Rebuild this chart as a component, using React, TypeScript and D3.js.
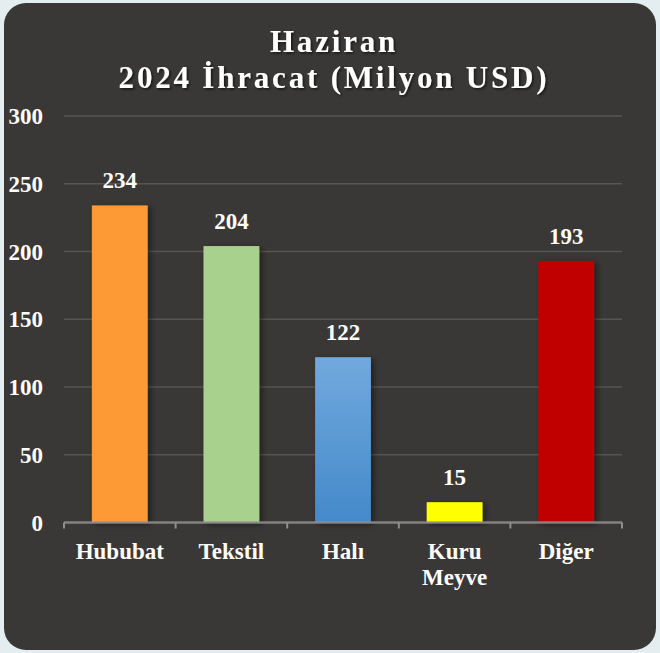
import React, { useRef, useEffect } from "react";
import * as d3 from "d3";

const categories = ["Hububat", "Tekstil", "Halı", "Kuru Meyve", "Diğer"];
const values = [234, 204, 122, 15, 193];
const barColors = ["#fe9a35", "#a9d18e", "url(#blueGrad)", "#ffff00", "#c00000"];
const yTicks = [0, 50, 100, 150, 200, 250, 300];
const titleLines = ["Haziran", "2024 İhracat (Milyon USD)"];

export default function App() {
  const svgRef = useRef<SVGSVGElement>(null);

  useEffect(() => {
    const width = 660;
    const height = 653;
    const marginLeft = 64;
    const marginRight = 38;
    const yTop = 116;
    const yBottom = 522.5;
    const font = "'Liberation Serif', 'Times New Roman', serif";

    const svg = d3.select(svgRef.current)
      .attr("width", width)
      .attr("height", height)
      .attr("viewBox", [0, 0, width, height]);

    svg.selectAll("*").remove();

    const defs = svg.append("defs");
    const grad = defs.append("linearGradient")
      .attr("id", "blueGrad")
      .attr("x1", 0).attr("y1", 0).attr("x2", 0).attr("y2", 1);
    grad.append("stop").attr("offset", "0%").attr("stop-color", "#71a9dd");
    grad.append("stop").attr("offset", "100%").attr("stop-color", "#4489ca");

    const shadow = defs.append("filter").attr("id", "barShadow")
      .attr("x", "-20%").attr("y", "-10%").attr("width", "150%").attr("height", "130%");
    shadow.append("feDropShadow")
      .attr("dx", 3).attr("dy", 2).attr("stdDeviation", 3)
      .attr("flood-color", "#000").attr("flood-opacity", 0.45);

    const tShadow = defs.append("filter").attr("id", "textShadow")
      .attr("x", "-10%").attr("y", "-30%").attr("width", "120%").attr("height", "160%");
    tShadow.append("feDropShadow")
      .attr("dx", 1.5).attr("dy", 1.5).attr("stdDeviation", 1)
      .attr("flood-color", "#000").attr("flood-opacity", 0.6);

    // page + card background
    svg.append("rect").attr("width", width).attr("height", height).attr("fill", "#e4edf0");
    svg.append("rect")
      .attr("x", 4).attr("y", 3).attr("width", 652).attr("height", 647)
      .attr("rx", 22).attr("fill", "#3a3836");

    const x = d3.scaleBand()
      .domain(categories)
      .range([marginLeft, width - marginRight])
      .paddingInner(0.5)
      .paddingOuter(0.25);

    const y = d3.scaleLinear()
      .domain([0, 300])
      .range([yBottom, yTop]);

    // gridlines
    svg.append("g")
      .selectAll("line")
      .data(yTicks.filter(d => d > 0))
      .join("line")
        .attr("x1", marginLeft).attr("x2", width - marginRight)
        .attr("y1", d => y(d)).attr("y2", d => y(d))
        .attr("stroke", "#575553").attr("stroke-width", 1.5);

    // y labels
    svg.append("g")
      .selectAll("text")
      .data(yTicks)
      .join("text")
        .attr("x", 43)
        .attr("y", d => y(d) + 8)
        .attr("text-anchor", "end")
        .attr("fill", "#fff")
        .attr("font-family", font)
        .attr("font-weight", "bold")
        .attr("font-size", 23)
        .text(d => d);

    // bars
    svg.append("g")
      .selectAll("rect")
      .data(values)
      .join("rect")
        .attr("x", (d, i) => x(categories[i])!)
        .attr("y", d => y(d))
        .attr("width", x.bandwidth())
        .attr("height", d => y(0) - y(d))
        .attr("fill", (d, i) => barColors[i])
        .attr("filter", "url(#barShadow)");

    // value labels
    svg.append("g")
      .selectAll("text")
      .data(values)
      .join("text")
        .attr("x", (d, i) => x(categories[i])! + x.bandwidth() / 2)
        .attr("y", d => y(d) - 17)
        .attr("text-anchor", "middle")
        .attr("fill", "#fff")
        .attr("font-family", font)
        .attr("font-weight", "bold")
        .attr("font-size", 23)
        .text(d => d);

    // x axis
    const axis = svg.append("g");
    axis.append("line")
      .attr("x1", marginLeft).attr("x2", width - marginRight)
      .attr("y1", yBottom).attr("y2", yBottom)
      .attr("stroke", "#8f8f8f").attr("stroke-opacity", 0.85).attr("stroke-width", 2.5);
    const step = x.step();
    const start = x(categories[0])! - (step - x.bandwidth()) / 2;
    axis.selectAll("line.tick")
      .data(d3.range(categories.length + 1))
      .join("line")
        .attr("class", "tick")
        .attr("x1", i => start + i * step)
        .attr("x2", i => start + i * step)
        .attr("y1", yBottom).attr("y2", yBottom + 6)
        .attr("stroke", "#8f8f8f").attr("stroke-width", 2);

    // category labels
    svg.append("g")
      .selectAll("text")
      .data(categories)
      .join("text")
        .attr("x", d => x(d)! + x.bandwidth() / 2)
        .attr("y", 559)
        .attr("text-anchor", "middle")
        .attr("fill", "#fff")
        .attr("font-family", font)
        .attr("font-weight", "bold")
        .attr("font-size", 23)
        .each(function (d) {
          const words = d.split(" ");
          d3.select(this).selectAll("tspan")
            .data(words)
            .join("tspan")
              .attr("x", x(d)! + x.bandwidth() / 2)
              .attr("dy", (w, i) => (i === 0 ? 0 : 26))
              .text(w => w);
        });

    // title
    svg.append("g")
      .attr("filter", "url(#textShadow)")
      .selectAll("text")
      .data(titleLines)
      .join("text")
        .attr("x", 334)
        .attr("y", (d, i) => 52 + i * 36)
        .attr("text-anchor", "middle")
        .attr("fill", "#fff")
        .attr("font-family", font)
        .attr("font-weight", "bold")
        .attr("font-size", 31)
        .attr("letter-spacing", 2.8)
        .text(d => d);
  }, []);

  return <svg ref={svgRef} style={{ position: "absolute", left: 0, top: 0 }}></svg>;
}
